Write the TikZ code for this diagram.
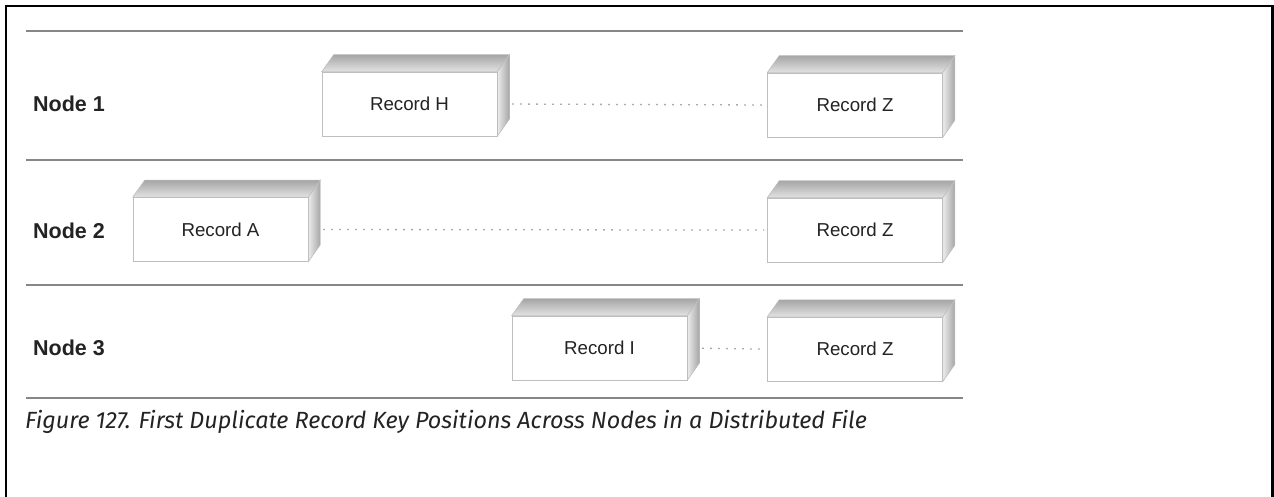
\documentclass[tikz,border=0pt]{standalone}
\usepackage{fontspec}
\setmainfont{Liberation Sans}
\newfontfamily\capfont{Fira Sans}
\usetikzlibrary{positioning, calc, backgrounds}
\definecolor{rulegrey}{RGB}{135,135,135}
\definecolor{edgegrey}{RGB}{190,190,190}
\definecolor{dotgrey}{RGB}{125,125,125}
\definecolor{inkblack}{RGB}{35,35,35}
\newcommand{\slab}[1]{
  \begin{scope}[on background layer]
    \shade[top color=gray!70, bottom color=gray!22, draw=edgegrey, line width=0.6pt]
      (#1.north west) -- ($(#1.north west)+(12,-17)$) -- ($(#1.north east)+(12,-17)$) -- (#1.north east) -- cycle;
    \shade[left color=gray!15, right color=gray!70, draw=edgegrey, line width=0.6pt]
      (#1.north east) -- ($(#1.north east)+(12,-17)$) -- ($(#1.south east)+(12,-17)$) -- (#1.south east) -- cycle;
  \end{scope}
}

\begin{document}
\begin{tikzpicture}[
    x=1pt, y=-1pt,
    rule/.style={draw=rulegrey, line width=2.8pt},
    frame/.style={draw=black, line width=2.5pt},
    recbox/.style={draw=edgegrey, line width=0.6pt, fill=white, minimum width=175pt, minimum height=64pt, inner sep=0pt, font=\fontsize{18.7}{20}\selectfont, text=inkblack},
    rowlbl/.style={font=\fontsize{21.5}{23}\selectfont\bfseries, text=inkblack, anchor=west, inner sep=0pt},
    caplbl/.style={font=\capfont\itshape\fontsize{23.4}{25}\selectfont, text=inkblack, anchor=west, inner sep=0pt},
    dotline/.style={draw=dotgrey, line width=1.3pt, dash pattern=on 1.3pt off 6.7pt},
]
\useasboundingbox (0,0) rectangle (1274,497);

% ---------------------------------------------------------------- frame ---
\draw[frame] (6,497) -- (6,6) -- (1272.5,6) -- (1272.5,497);
\foreach \ry in {31,160,285,398}
  \draw[rule] (26,\ry) -- (963,\ry);

% ---------------------------------------------------------------- node 1 ---
\node[rowlbl] (node1) at (33,104) {Node 1};
\node[recbox] (rech) at (409.5,104) {Record H};
\slab{rech}
\node[recbox] (recz1) at (855,105) {Record Z};
\slab{recz1}
\draw[dotline, shorten <=15pt, shorten >=3pt] (rech.east) -- (recz1.west);

% ---------------------------------------------------------------- node 2 ---
\node[rowlbl] (node2) at (33,231) {Node 2};
\node[recbox] (reca) at (220.5,229.5) {Record A};
\slab{reca}
\node[recbox, below=60.5pt of recz1] (recz2) {Record Z};
\slab{recz2}
\draw[dotline, shorten <=15pt, shorten >=3pt] (reca.east) -- (recz2.west);

% ---------------------------------------------------------------- node 3 ---
\node[rowlbl] (node3) at (33,348) {Node 3};
\node[recbox] (reci) at (599.5,348) {Record I};
\slab{reci}
\node[recbox, below=54.5pt of recz2] (recz3) {Record Z};
\slab{recz3}
\draw[dotline, shorten <=15pt, shorten >=3pt] (reci.east) -- (recz3.west);

% --------------------------------------------------------------- caption ---
\node[caplbl] (cap) at (25,422) {Figure 127. First Duplicate Record Key Positions Across Nodes in a Distributed File};

\end{tikzpicture}
\end{document}
